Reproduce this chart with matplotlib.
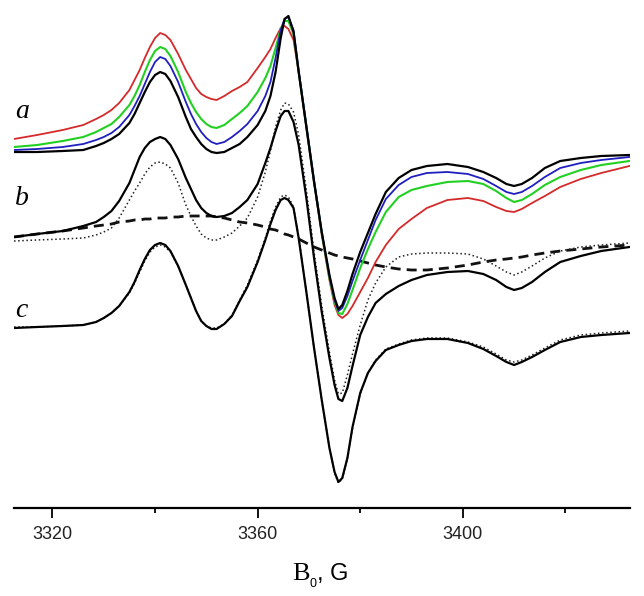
import matplotlib.pyplot as plt

# magnetic field, G
field = [3312.5, 3317, 3322, 3326, 3328.5, 3330, 3331.5, 3333, 3335, 3336,
         3337, 3338, 3339, 3340, 3341, 3342, 3343, 3344.5, 3346, 3347,
         3348, 3349, 3350, 3351, 3352, 3353.5, 3355, 3356.5, 3358, 3360,
         3361.5, 3362.5, 3363.5, 3364.5, 3365.25, 3366, 3367, 3368, 3369.5, 3371,
         3372.5, 3374, 3375, 3375.75, 3376.5, 3377.5, 3378.5, 3380, 3381.5, 3383,
         3385, 3387.5, 3390, 3393, 3397, 3401, 3404, 3406.5, 3408.5, 3410,
         3411.5, 3413.5, 3416, 3419, 3423, 3427, 3432.5]

# stacked spectra (a.u.), group a
a_red = [369, 373, 378, 383, 389, 393, 398, 405, 418, 428, 438, 450, 461, 470, 475, 473, 468, 454, 438, 429,
         420, 414, 411, 409, 408, 412, 417, 421, 426, 440, 451, 459, 470, 480, 482, 479, 468, 436, 380, 325,
         273, 228, 203, 193, 190, 194, 202, 216, 230, 246, 263, 279, 289, 300, 308, 310, 307, 301, 297, 296,
         299, 305, 312, 321, 329, 335, 342]
a_green = [361, 363, 367, 371, 376, 380, 384, 391, 403, 412, 423, 436, 448, 457, 461, 459, 452, 436, 416, 405,
           396, 389, 384, 381, 380, 383, 389, 395, 402, 416, 430, 442, 460, 479, 487, 487, 474, 436, 382, 327,
           275, 230, 206, 195, 194, 204, 218, 240, 259, 276, 296, 311, 318, 322, 326, 327, 324, 317, 310, 306,
           308, 314, 323, 331, 338, 343, 347]
a_blue = [358, 359, 361, 364, 368, 371, 375, 381, 393, 402, 412, 424, 436, 446, 451, 449, 442, 426, 406, 394,
          384, 376, 370, 366, 364, 366, 371, 377, 384, 397, 412, 426, 450, 478, 489, 491, 478, 438, 383, 328,
          276, 232, 208, 197, 200, 212, 227, 248, 268, 288, 309, 323, 331, 335, 336, 334, 329, 322, 316, 314,
          316, 322, 331, 340, 345, 348, 351]
a_black = [356, 356, 357, 358, 362, 365, 369, 374, 385, 394, 405, 416, 426, 433, 436, 434, 427, 411, 391, 379,
           371, 364, 359, 356, 355, 356, 360, 364, 371, 383, 397, 412, 436, 470, 489, 492, 476, 436, 381, 326,
           276, 233, 210, 199, 203, 217, 234, 256, 275, 294, 316, 330, 338, 342, 344, 341, 336, 330, 324, 322,
           324, 330, 340, 347, 350, 352, 353]

# group b
b_solid = [271, 274, 277, 282, 286, 291, 297, 307, 325, 338, 351, 360, 366, 369, 371, 369, 363, 349, 330, 319,
           308, 300, 295, 292, 291, 292, 295, 301, 308, 324, 345, 360, 377, 392, 397, 397, 386, 363, 310, 250,
           196, 150, 123, 109, 107, 120, 142, 173, 191, 205, 214, 222, 228, 233, 236, 237, 234, 228, 221, 218,
           220, 226, 236, 246, 252, 257, 261]
b_dotted = [267, 268, 269, 270, 273, 276, 280, 290, 308, 317, 325, 334, 341, 345, 346, 344, 340, 325, 303, 292,
            282, 274, 270, 268, 268, 271, 275, 282, 290, 311, 336, 357, 381, 398, 405, 404, 396, 373, 318, 256,
            202, 156, 128, 114, 115, 133, 154, 183, 208, 225, 241, 251, 254, 255, 255, 254, 249, 242, 236, 233,
            236, 242, 250, 257, 261, 263, 265]
b_dashed = [271, 274, 277, 280, 282, 283, 284, 286, 287, 288, 288, 289, 289, 290, 290, 290, 291, 291, 292, 292,
            292, 292, 292, 292, 291, 290, 288, 286, 285, 283, 281, 279, 278, 276, 274, 273, 271, 269, 265, 261,
            258, 255, 253, 252, 251, 250, 249, 247, 245, 243, 241, 239, 238, 238, 240, 243, 246, 248, 249, 250,
            251, 253, 255, 257, 259, 261, 263]

# group c
c_solid = [180, 181, 182, 183, 186, 190, 195, 202, 216, 226, 238, 249, 258, 263, 265, 263, 257, 242, 223, 210,
           197, 187, 182, 179, 179, 184, 192, 207, 221, 246, 268, 284, 298, 308, 310, 308, 300, 270, 216, 160,
           108, 60, 36, 26, 30, 50, 81, 115, 135, 147, 158, 163, 167, 169, 169, 165, 159, 152, 146, 143,
           146, 151, 158, 166, 171, 173, 175]
c_dotted = [181, 181, 182, 183, 186, 190, 195, 202, 215, 225, 236, 247, 256, 261, 263, 261, 256, 242, 223, 210,
            197, 187, 182, 180, 180, 184, 193, 208, 223, 248, 270, 287, 301, 311, 313, 311, 301, 271, 216, 160,
            108, 60, 35, 25, 29, 49, 80, 114, 135, 148, 159, 164, 168, 170, 170, 166, 161, 154, 148, 146,
            148, 153, 160, 168, 173, 175, 177]

W, H = 644, 596
fig = plt.figure(figsize=(W / 100, H / 100), dpi=100)
ax = fig.add_axes([14 / W, (H - 508) / H, 616 / W, 508 / H])

dot = (0, (1, 1.7))

ax.plot(field, b_dashed, color='#111111', lw=2.0, ls=(0, (3.6, 2.2)), zorder=2)
ax.plot(field, b_dotted, color='#222222', lw=1.1, ls=dot, zorder=2)
ax.plot(field, b_solid, color='black', lw=1.6, zorder=3)

ax.plot(field, c_dotted, color='#222222', lw=1.1, ls=dot, zorder=2)
ax.plot(field, c_solid, color='black', lw=1.6, zorder=3)

ax.plot(field, a_red, color='#d42a2a', lw=1.3, zorder=3)
ax.plot(field, a_green, color='#22d022', lw=1.5, zorder=3)
ax.plot(field, a_blue, color='#1f1fbf', lw=1.3, zorder=3)
ax.plot(field, a_black, color='black', lw=1.6, zorder=4)

ax.set_xlim(3312.5, 3432.6)
ax.set_ylim(0, 508)

for s in ['left', 'right', 'top']:
    ax.spines[s].set_visible(False)
ax.spines['bottom'].set_linewidth(1.6)
ax.set_yticks([])
ax.set_xticks([3320, 3360, 3400])
ax.set_xticks([3340, 3380, 3420], minor=True)
ax.tick_params(axis='x', which='major', direction='out', length=7, width=1.3,
               pad=6, labelsize=13)
ax.tick_params(axis='x', which='minor', direction='out', length=3.8, width=1.3)
for lab in ax.get_xticklabels():
    lab.set_fontfamily('Liberation Sans')
    lab.set_color('#222222')

# curve labels
for txt, ybase in [('a', 118), ('b', 205), ('c', 317)]:
    fig.text(15 / W, (H - ybase) / H, txt, fontfamily='Liberation Serif',
             fontstyle='italic', fontsize=20, ha='left', va='baseline')

# x label  B0, G
fig.text(292 / W, (H - 580) / H, 'B', fontfamily='Liberation Serif',
         fontsize=19, ha='left', va='baseline')
fig.text(309 / W, (H - 587) / H, '0', fontfamily='Liberation Sans',
         fontsize=9, ha='left', va='baseline')
fig.text(317 / W, (H - 580) / H, ', G', fontfamily='Liberation Sans',
         fontsize=17, ha='left', va='baseline')

fig.savefig('out.png', dpi=100)
